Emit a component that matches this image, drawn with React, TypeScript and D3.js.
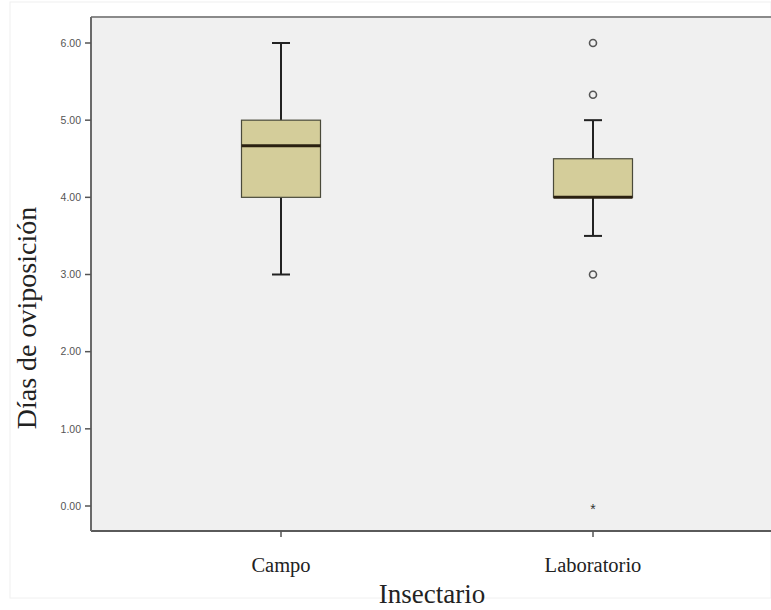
import React from "react";
import * as d3 from "d3";

const categories = ["Campo", "Laboratorio"];
const whiskerLow = [3.0, 3.5];
const q1 = [4.0, 4.0];
const median = [4.67, 4.0];
const q3 = [5.0, 4.5];
const whiskerHigh = [6.0, 5.0];
const outliers = [[], [6.0, 5.33, 3.0]];
const extremes = [[], [0.0]];
const yTicks = [0, 1, 2, 3, 4, 5, 6];

const W = 771;
const H = 610;
const left = 91;
const right = 771;
const top = 17;
const bottom = 531;

export default function App() {
  const y = d3.scaleLinear().domain([0, 6]).range([506, 43]);
  const x = d3.scalePoint().domain(categories).range([281, 593]);
  const boxW = 79;
  const capW = 18;

  return (
    <svg width={W} height={H} style={{ position: "absolute", left: 0, top: 0 }} xmlns="http://www.w3.org/2000/svg">
      <rect x={0} y={0} width={W} height={H} fill="#ffffff" />
      <rect x={10} y={2} width={W - 10} height={596} fill="none" stroke="#f0f0f0" strokeWidth={1} />
      <rect x={left} y={top} width={right - left} height={bottom - top} fill="#f0f0f0" />
      <line x1={left} x2={right} y1={top} y2={top} stroke="#8a8a8a" strokeWidth={2} />
      <line x1={left} x2={right} y1={bottom} y2={bottom} stroke="#5a5a5a" strokeWidth={2} />
      <line x1={left} x2={left} y1={top} y2={bottom} stroke="#6a6a6a" strokeWidth={2} />
      {yTicks.map((t) => (
        <g key={t}>
          <line x1={left - 6} x2={left} y1={y(t)} y2={y(t)} stroke="#555" strokeWidth={1.5} />
          <text x={left - 10} y={y(t)} dy="0.35em" textAnchor="end" fontFamily="Arial, Liberation Sans, sans-serif" fontSize={10.5} fill="#555">
            {d3.format(".2f")(t)}
          </text>
        </g>
      ))}
      {categories.map((c, i) => {
        const cx = x(c)!;
        return (
          <g key={c}>
            <line x1={cx} x2={cx} y1={bottom} y2={bottom + 6} stroke="#555" strokeWidth={1.5} />
            <text x={cx} y={572} textAnchor="middle" fontFamily="Times New Roman, Liberation Serif, serif" fontSize={20.5} fill="#222">
              {c}
            </text>
            <line x1={cx} x2={cx} y1={y(whiskerHigh[i])} y2={y(q3[i])} stroke="#222" strokeWidth={2} />
            <line x1={cx} x2={cx} y1={y(q1[i])} y2={y(whiskerLow[i])} stroke="#222" strokeWidth={2} />
            <line x1={cx - capW / 2} x2={cx + capW / 2} y1={y(whiskerHigh[i])} y2={y(whiskerHigh[i])} stroke="#222" strokeWidth={2} />
            <line x1={cx - capW / 2} x2={cx + capW / 2} y1={y(whiskerLow[i])} y2={y(whiskerLow[i])} stroke="#222" strokeWidth={2} />
            <rect x={cx - boxW / 2} y={y(q3[i])} width={boxW} height={y(q1[i]) - y(q3[i])} fill="#d4cd9a" stroke="#4a4a3a" strokeWidth={1.2} />
            <line x1={cx - boxW / 2} x2={cx + boxW / 2} y1={y(median[i])} y2={y(median[i])} stroke="#2a2010" strokeWidth={3} />
            {outliers[i].map((o, j) => (
              <circle key={j} cx={cx} cy={y(o)} r={3.5} fill="none" stroke="#555" strokeWidth={1.6} />
            ))}
            {extremes[i].map((o, j) => (
              <text key={j} x={cx} y={y(o)} dy="0.6em" textAnchor="middle" fontFamily="Arial, Liberation Sans, sans-serif" fontSize={14} fill="#333">
                *
              </text>
            ))}
          </g>
        );
      })}
      <text x={432} y={603} textAnchor="middle" fontFamily="Times New Roman, Liberation Serif, serif" fontSize={27} fill="#222">
        Insectario
      </text>
      <text transform={`translate(36, 318) rotate(-90)`} textAnchor="middle" fontFamily="Times New Roman, Liberation Serif, serif" fontSize={28} fill="#222">
        Días de oviposición
      </text>
    </svg>
  );
}
